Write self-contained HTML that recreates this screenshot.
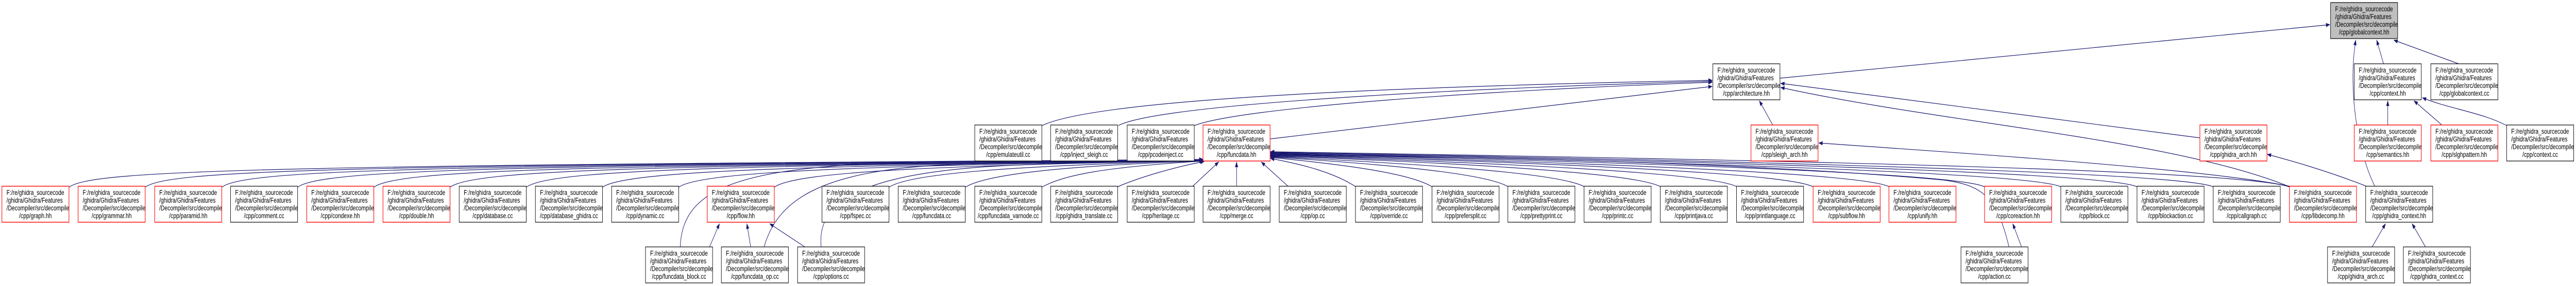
<!DOCTYPE html>
<html><head><meta charset="utf-8"><style>
html,body{margin:0;padding:0;background:#fff;overflow:hidden;width:100vw;height:100vh;}
svg{display:block;width:100vw;height:100vh;}
text{font-family:"Liberation Sans",Arial,sans-serif;font-size:14px;fill:#000;}
.m{text-anchor:middle;}
rect.b{fill:#fff;stroke:#000;stroke-width:1.2;}
rect.r{fill:#fff;stroke:#ff0000;stroke-width:1.4;}
rect.g{fill:#bfbfbf;stroke:#000;stroke-width:1.2;}
path.e{fill:none;stroke:#191970;stroke-width:1.2;}
</style></head><body>
<svg viewBox="0 0 6760 556" preserveAspectRatio="none" xmlns="http://www.w3.org/2000/svg">
<defs>
<marker id="a" markerUnits="userSpaceOnUse" markerWidth="11" markerHeight="8" refX="10" refY="4" orient="auto"><path d="M0,0 L11,4 L0,8 z" fill="#191970"/></marker>
</defs>
<g marker-end="url(#a)">
<path class="e" d="M4671,152 L6114,48"/>
<path class="e" d="M6255,124 L6237,78"/>
<path class="e" d="M6452,124 L6282,78"/>
<path class="e" d="M6232,362 C6190,300 6160,180 6182,78"/>
<path class="e" d="M6266,243 L6266,196"/>
<path class="e" d="M6408,243 L6335,196"/>
<path class="e" d="M6580,245 C6520,220 6420,210 6357,190"/>
<path class="e" d="M2735,244 C2900,185 3900,165 4493,156"/>
<path class="e" d="M2935,244 C3050,200 3900,170 4493,158"/>
<path class="e" d="M3135,244 C3250,210 3900,175 4493,160"/>
<path class="e" d="M3334,270 L4493,168"/>
<path class="e" d="M4652,243 L4617,196"/>
<path class="e" d="M5773,268 L4673,162"/>
<path class="e" d="M6008,363 C5700,270 5100,240 4673,170"/>
<path class="e" d="M6008,362 C5800,330 5200,300 4773,278"/>
<path class="e" d="M6210,362 C6100,330 6000,310 5950,300"/>
<path class="e" d="M6225,480 L6260,435"/>
<path class="e" d="M6365,480 L6330,435"/>
<path class="e" d="M5305,480 L5282,435"/>
<path class="e" d="M5272,480 C5240,380 5200,360 5100,350 C4500,310 3700,305 3335,300"/>
<path class="e" d="M1862,480 L1888,435"/>
<path class="e" d="M1970,480 L1960,435"/>
<path class="e" d="M2112,480 L2020,435"/>
<path class="e" d="M1785,480 C1790,380 1900,330 2300,318 C2700,310 3000,312 3158,310"/>
<path class="e" d="M2005,480 C2040,390 2150,330 2500,320 C2800,312 3050,312 3158,311"/>
<path class="e" d="M2155,480 C2140,380 2300,330 2700,320 C2900,314 3080,313 3160,312"/>
<path class="e" d="M181,364 C240,330 700,322 3157,310"/>
<path class="e" d="M381,364 C440,330 900,322 3157,310"/>
<path class="e" d="M582,364 C640,330 1100,322 3157,311"/>
<path class="e" d="M781,364 C840,330 1300,322 3157,311"/>
<path class="e" d="M981,364 C1040,330 1500,322 3157,312"/>
<path class="e" d="M1181,364 C1240,330 1700,322 3157,312"/>
<path class="e" d="M1381,364 C1440,330 1900,322 3157,312"/>
<path class="e" d="M1581,364 C1640,332 2100,322 3158,312"/>
<path class="e" d="M1781,364 C1840,332 2300,322 3158,312"/>
<path class="e" d="M2032,364 C2090,332 2500,322 3158,312"/>
<path class="e" d="M2333,364 C2390,335 2700,322 3158,312"/>
<path class="e" d="M2533,364 C2590,338 2800,322 3158,313"/>
<path class="e" d="M2734,364 C2790,340 2900,325 3158,313"/>
<path class="e" d="M2933,363 C2990,345 3080,325 3160,314"/>
<path class="e" d="M3130,362 L3198,315"/>
<path class="e" d="M3245,362 L3245,315"/>
<path class="e" d="M3380,362 L3310,315"/>
<path class="e" d="M3560,364 C3500,335 3420,320 3334,308"/>
<path class="e" d="M3760,364 C3700,335 3500,318 3334,306"/>
<path class="e" d="M3960,364 C3900,335 3600,318 3334,305"/>
<path class="e" d="M4160,364 C4100,335 3700,318 3334,304"/>
<path class="e" d="M4360,364 C4300,335 3800,316 3334,303"/>
<path class="e" d="M4560,364 C4500,335 3900,316 3334,302"/>
<path class="e" d="M4760,364 C4700,335 4000,315 3334,301"/>
<path class="e" d="M4960,364 C4900,335 4100,315 3334,300"/>
<path class="e" d="M5210,364 C5150,335 4200,314 3334,299"/>
<path class="e" d="M5410,364 C5350,335 4300,313 3334,298"/>
<path class="e" d="M5610,364 C5550,335 4400,312 3334,297"/>
<path class="e" d="M5810,364 C5750,335 4500,311 3334,296"/>
<path class="e" d="M6010,364 C5900,330 4600,310 3334,295"/>
</g>

<g transform="translate(6116,5)"><rect class="g" x="0" y="0" width="176" height="70"/><text x="12" y="17">F:/re/ghidra_sourcecode</text><text x="12" y="32">/ghidra/Ghidra/Features</text><text x="12" y="47">/Decompiler/src/decompile</text><text class="m" x="88" y="62">/cpp/globalcontext.hh</text></g>

<g transform="translate(4495,124)"><rect class="b" width="176" height="70"/><text x="12" y="17">F:/re/ghidra_sourcecode</text><text x="12" y="32">/ghidra/Ghidra/Features</text><text x="12" y="47">/Decompiler/src/decompile</text><text class="m" x="88" y="62">/cpp/architecture.hh</text></g>
<g transform="translate(6178,124)"><rect class="b" width="176" height="70"/><text x="12" y="17">F:/re/ghidra_sourcecode</text><text x="12" y="32">/ghidra/Ghidra/Features</text><text x="12" y="47">/Decompiler/src/decompile</text><text class="m" x="88" y="62">/cpp/context.hh</text></g>
<g transform="translate(6379,124)"><rect class="b" width="176" height="70"/><text x="12" y="17">F:/re/ghidra_sourcecode</text><text x="12" y="32">/ghidra/Ghidra/Features</text><text x="12" y="47">/Decompiler/src/decompile</text><text class="m" x="88" y="62">/cpp/globalcontext.cc</text></g>

<g transform="translate(2558,243)"><rect class="b" width="176" height="70"/><text x="12" y="17">F:/re/ghidra_sourcecode</text><text x="12" y="32">/ghidra/Ghidra/Features</text><text x="12" y="47">/Decompiler/src/decompile</text><text class="m" x="88" y="62">/cpp/emulateutil.cc</text></g>
<g transform="translate(2757,243)"><rect class="b" width="176" height="70"/><text x="12" y="17">F:/re/ghidra_sourcecode</text><text x="12" y="32">/ghidra/Ghidra/Features</text><text x="12" y="47">/Decompiler/src/decompile</text><text class="m" x="88" y="62">/cpp/inject_sleigh.cc</text></g>
<g transform="translate(2958,243)"><rect class="b" width="176" height="70"/><text x="12" y="17">F:/re/ghidra_sourcecode</text><text x="12" y="32">/ghidra/Ghidra/Features</text><text x="12" y="47">/Decompiler/src/decompile</text><text class="m" x="88" y="62">/cpp/pcodeinject.cc</text></g>
<g transform="translate(3157,243)"><rect class="r" width="176" height="70"/><text x="12" y="17">F:/re/ghidra_sourcecode</text><text x="12" y="32">/ghidra/Ghidra/Features</text><text x="12" y="47">/Decompiler/src/decompile</text><text class="m" x="88" y="62">/cpp/funcdata.hh</text></g>
<g transform="translate(4595,243)"><rect class="r" width="176" height="70"/><text x="12" y="17">F:/re/ghidra_sourcecode</text><text x="12" y="32">/ghidra/Ghidra/Features</text><text x="12" y="47">/Decompiler/src/decompile</text><text class="m" x="88" y="62">/cpp/sleigh_arch.hh</text></g>
<g transform="translate(5773,243)"><rect class="r" width="176" height="70"/><text x="12" y="17">F:/re/ghidra_sourcecode</text><text x="12" y="32">/ghidra/Ghidra/Features</text><text x="12" y="47">/Decompiler/src/decompile</text><text class="m" x="88" y="62">/cpp/ghidra_arch.hh</text></g>
<g transform="translate(6178,243)"><rect class="r" width="176" height="70"/><text x="12" y="17">F:/re/ghidra_sourcecode</text><text x="12" y="32">/ghidra/Ghidra/Features</text><text x="12" y="47">/Decompiler/src/decompile</text><text class="m" x="88" y="62">/cpp/semantics.hh</text></g>
<g transform="translate(6379,243)"><rect class="r" width="176" height="70"/><text x="12" y="17">F:/re/ghidra_sourcecode</text><text x="12" y="32">/ghidra/Ghidra/Features</text><text x="12" y="47">/Decompiler/src/decompile</text><text class="m" x="88" y="62">/cpp/slghpattern.hh</text></g>
<g transform="translate(6578,243)"><rect class="b" width="176" height="70"/><text x="12" y="17">F:/re/ghidra_sourcecode</text><text x="12" y="32">/ghidra/Ghidra/Features</text><text x="12" y="47">/Decompiler/src/decompile</text><text class="m" x="88" y="62">/cpp/context.cc</text></g>

<g transform="translate(5,362)"><rect class="r" width="176" height="70"/><text x="12" y="17">F:/re/ghidra_sourcecode</text><text x="12" y="32">/ghidra/Ghidra/Features</text><text x="12" y="47">/Decompiler/src/decompile</text><text class="m" x="88" y="62">/cpp/graph.hh</text></g>
<g transform="translate(205,362)"><rect class="r" width="176" height="70"/><text x="12" y="17">F:/re/ghidra_sourcecode</text><text x="12" y="32">/ghidra/Ghidra/Features</text><text x="12" y="47">/Decompiler/src/decompile</text><text class="m" x="88" y="62">/cpp/grammar.hh</text></g>
<g transform="translate(406,362)"><rect class="r" width="176" height="70"/><text x="12" y="17">F:/re/ghidra_sourcecode</text><text x="12" y="32">/ghidra/Ghidra/Features</text><text x="12" y="47">/Decompiler/src/decompile</text><text class="m" x="88" y="62">/cpp/paramid.hh</text></g>
<g transform="translate(605,362)"><rect class="b" width="176" height="70"/><text x="12" y="17">F:/re/ghidra_sourcecode</text><text x="12" y="32">/ghidra/Ghidra/Features</text><text x="12" y="47">/Decompiler/src/decompile</text><text class="m" x="88" y="62">/cpp/comment.cc</text></g>
<g transform="translate(805,362)"><rect class="r" width="176" height="70"/><text x="12" y="17">F:/re/ghidra_sourcecode</text><text x="12" y="32">/ghidra/Ghidra/Features</text><text x="12" y="47">/Decompiler/src/decompile</text><text class="m" x="88" y="62">/cpp/condexe.hh</text></g>
<g transform="translate(1005,362)"><rect class="r" width="176" height="70"/><text x="12" y="17">F:/re/ghidra_sourcecode</text><text x="12" y="32">/ghidra/Ghidra/Features</text><text x="12" y="47">/Decompiler/src/decompile</text><text class="m" x="88" y="62">/cpp/double.hh</text></g>
<g transform="translate(1205,362)"><rect class="b" width="176" height="70"/><text x="12" y="17">F:/re/ghidra_sourcecode</text><text x="12" y="32">/ghidra/Ghidra/Features</text><text x="12" y="47">/Decompiler/src/decompile</text><text class="m" x="88" y="62">/cpp/database.cc</text></g>
<g transform="translate(1405,362)"><rect class="b" width="176" height="70"/><text x="12" y="17">F:/re/ghidra_sourcecode</text><text x="12" y="32">/ghidra/Ghidra/Features</text><text x="12" y="47">/Decompiler/src/decompile</text><text class="m" x="88" y="62">/cpp/database_ghidra.cc</text></g>
<g transform="translate(1605,362)"><rect class="b" width="176" height="70"/><text x="12" y="17">F:/re/ghidra_sourcecode</text><text x="12" y="32">/ghidra/Ghidra/Features</text><text x="12" y="47">/Decompiler/src/decompile</text><text class="m" x="88" y="62">/cpp/dynamic.cc</text></g>
<g transform="translate(1856,362)"><rect class="r" width="176" height="70"/><text x="12" y="17">F:/re/ghidra_sourcecode</text><text x="12" y="32">/ghidra/Ghidra/Features</text><text x="12" y="47">/Decompiler/src/decompile</text><text class="m" x="88" y="62">/cpp/flow.hh</text></g>
<g transform="translate(2157,362)"><rect class="b" width="176" height="70"/><text x="12" y="17">F:/re/ghidra_sourcecode</text><text x="12" y="32">/ghidra/Ghidra/Features</text><text x="12" y="47">/Decompiler/src/decompile</text><text class="m" x="88" y="62">/cpp/fspec.cc</text></g>
<g transform="translate(2357,362)"><rect class="b" width="176" height="70"/><text x="12" y="17">F:/re/ghidra_sourcecode</text><text x="12" y="32">/ghidra/Ghidra/Features</text><text x="12" y="47">/Decompiler/src/decompile</text><text class="m" x="88" y="62">/cpp/funcdata.cc</text></g>
<g transform="translate(2558,362)"><rect class="b" width="176" height="70"/><text x="12" y="17">F:/re/ghidra_sourcecode</text><text x="12" y="32">/ghidra/Ghidra/Features</text><text x="12" y="47">/Decompiler/src/decompile</text><text class="m" x="88" y="62">/cpp/funcdata_varnode.cc</text></g>
<g transform="translate(2757,362)"><rect class="b" width="176" height="70"/><text x="12" y="17">F:/re/ghidra_sourcecode</text><text x="12" y="32">/ghidra/Ghidra/Features</text><text x="12" y="47">/Decompiler/src/decompile</text><text class="m" x="88" y="62">/cpp/ghidra_translate.cc</text></g>
<g transform="translate(2958,362)"><rect class="b" width="176" height="70"/><text x="12" y="17">F:/re/ghidra_sourcecode</text><text x="12" y="32">/ghidra/Ghidra/Features</text><text x="12" y="47">/Decompiler/src/decompile</text><text class="m" x="88" y="62">/cpp/heritage.cc</text></g>
<g transform="translate(3157,362)"><rect class="b" width="176" height="70"/><text x="12" y="17">F:/re/ghidra_sourcecode</text><text x="12" y="32">/ghidra/Ghidra/Features</text><text x="12" y="47">/Decompiler/src/decompile</text><text class="m" x="88" y="62">/cpp/merge.cc</text></g>
<g transform="translate(3357,362)"><rect class="b" width="176" height="70"/><text x="12" y="17">F:/re/ghidra_sourcecode</text><text x="12" y="32">/ghidra/Ghidra/Features</text><text x="12" y="47">/Decompiler/src/decompile</text><text class="m" x="88" y="62">/cpp/op.cc</text></g>
<g transform="translate(3557,362)"><rect class="b" width="176" height="70"/><text x="12" y="17">F:/re/ghidra_sourcecode</text><text x="12" y="32">/ghidra/Ghidra/Features</text><text x="12" y="47">/Decompiler/src/decompile</text><text class="m" x="88" y="62">/cpp/override.cc</text></g>
<g transform="translate(3758,362)"><rect class="b" width="176" height="70"/><text x="12" y="17">F:/re/ghidra_sourcecode</text><text x="12" y="32">/ghidra/Ghidra/Features</text><text x="12" y="47">/Decompiler/src/decompile</text><text class="m" x="88" y="62">/cpp/prefersplit.cc</text></g>
<g transform="translate(3957,362)"><rect class="b" width="176" height="70"/><text x="12" y="17">F:/re/ghidra_sourcecode</text><text x="12" y="32">/ghidra/Ghidra/Features</text><text x="12" y="47">/Decompiler/src/decompile</text><text class="m" x="88" y="62">/cpp/prettyprint.cc</text></g>
<g transform="translate(4157,362)"><rect class="b" width="176" height="70"/><text x="12" y="17">F:/re/ghidra_sourcecode</text><text x="12" y="32">/ghidra/Ghidra/Features</text><text x="12" y="47">/Decompiler/src/decompile</text><text class="m" x="88" y="62">/cpp/printc.cc</text></g>
<g transform="translate(4357,362)"><rect class="b" width="176" height="70"/><text x="12" y="17">F:/re/ghidra_sourcecode</text><text x="12" y="32">/ghidra/Ghidra/Features</text><text x="12" y="47">/Decompiler/src/decompile</text><text class="m" x="88" y="62">/cpp/printjava.cc</text></g>
<g transform="translate(4557,362)"><rect class="b" width="176" height="70"/><text x="12" y="17">F:/re/ghidra_sourcecode</text><text x="12" y="32">/ghidra/Ghidra/Features</text><text x="12" y="47">/Decompiler/src/decompile</text><text class="m" x="88" y="62">/cpp/printlanguage.cc</text></g>
<g transform="translate(4758,362)"><rect class="r" width="176" height="70"/><text x="12" y="17">F:/re/ghidra_sourcecode</text><text x="12" y="32">/ghidra/Ghidra/Features</text><text x="12" y="47">/Decompiler/src/decompile</text><text class="m" x="88" y="62">/cpp/subflow.hh</text></g>
<g transform="translate(4957,362)"><rect class="r" width="176" height="70"/><text x="12" y="17">F:/re/ghidra_sourcecode</text><text x="12" y="32">/ghidra/Ghidra/Features</text><text x="12" y="47">/Decompiler/src/decompile</text><text class="m" x="88" y="62">/cpp/unify.hh</text></g>
<g transform="translate(5208,362)"><rect class="r" width="176" height="70"/><text x="12" y="17">F:/re/ghidra_sourcecode</text><text x="12" y="32">/ghidra/Ghidra/Features</text><text x="12" y="47">/Decompiler/src/decompile</text><text class="m" x="88" y="62">/cpp/coreaction.hh</text></g>
<g transform="translate(5408,362)"><rect class="b" width="176" height="70"/><text x="12" y="17">F:/re/ghidra_sourcecode</text><text x="12" y="32">/ghidra/Ghidra/Features</text><text x="12" y="47">/Decompiler/src/decompile</text><text class="m" x="88" y="62">/cpp/block.cc</text></g>
<g transform="translate(5608,362)"><rect class="b" width="176" height="70"/><text x="12" y="17">F:/re/ghidra_sourcecode</text><text x="12" y="32">/ghidra/Ghidra/Features</text><text x="12" y="47">/Decompiler/src/decompile</text><text class="m" x="88" y="62">/cpp/blockaction.cc</text></g>
<g transform="translate(5808,362)"><rect class="b" width="176" height="70"/><text x="12" y="17">F:/re/ghidra_sourcecode</text><text x="12" y="32">/ghidra/Ghidra/Features</text><text x="12" y="47">/Decompiler/src/decompile</text><text class="m" x="88" y="62">/cpp/callgraph.cc</text></g>
<g transform="translate(6008,362)"><rect class="r" width="176" height="70"/><text x="12" y="17">F:/re/ghidra_sourcecode</text><text x="12" y="32">/ghidra/Ghidra/Features</text><text x="12" y="47">/Decompiler/src/decompile</text><text class="m" x="88" y="62">/cpp/libdecomp.hh</text></g>
<g transform="translate(6208,362)"><rect class="b" width="176" height="70"/><text x="12" y="17">F:/re/ghidra_sourcecode</text><text x="12" y="32">/ghidra/Ghidra/Features</text><text x="12" y="47">/Decompiler/src/decompile</text><text class="m" x="88" y="62">/cpp/ghidra_context.hh</text></g>

<g transform="translate(1694,480)"><rect class="b" width="176" height="70"/><text x="12" y="17">F:/re/ghidra_sourcecode</text><text x="12" y="32">/ghidra/Ghidra/Features</text><text x="12" y="47">/Decompiler/src/decompile</text><text class="m" x="88" y="62">/cpp/funcdata_block.cc</text></g>
<g transform="translate(1893,480)"><rect class="b" width="176" height="70"/><text x="12" y="17">F:/re/ghidra_sourcecode</text><text x="12" y="32">/ghidra/Ghidra/Features</text><text x="12" y="47">/Decompiler/src/decompile</text><text class="m" x="88" y="62">/cpp/funcdata_op.cc</text></g>
<g transform="translate(2093,480)"><rect class="b" width="176" height="70"/><text x="12" y="17">F:/re/ghidra_sourcecode</text><text x="12" y="32">/ghidra/Ghidra/Features</text><text x="12" y="47">/Decompiler/src/decompile</text><text class="m" x="88" y="62">/cpp/options.cc</text></g>
<g transform="translate(5146,480)"><rect class="b" width="176" height="70"/><text x="12" y="17">F:/re/ghidra_sourcecode</text><text x="12" y="32">/ghidra/Ghidra/Features</text><text x="12" y="47">/Decompiler/src/decompile</text><text class="m" x="88" y="62">/cpp/action.cc</text></g>
<g transform="translate(6108,480)"><rect class="b" width="176" height="70"/><text x="12" y="17">F:/re/ghidra_sourcecode</text><text x="12" y="32">/ghidra/Ghidra/Features</text><text x="12" y="47">/Decompiler/src/decompile</text><text class="m" x="88" y="62">/cpp/ghidra_arch.cc</text></g>
<g transform="translate(6307,480)"><rect class="b" width="176" height="70"/><text x="12" y="17">F:/re/ghidra_sourcecode</text><text x="12" y="32">/ghidra/Ghidra/Features</text><text x="12" y="47">/Decompiler/src/decompile</text><text class="m" x="88" y="62">/cpp/ghidra_context.cc</text></g>
</svg>
</body></html>
